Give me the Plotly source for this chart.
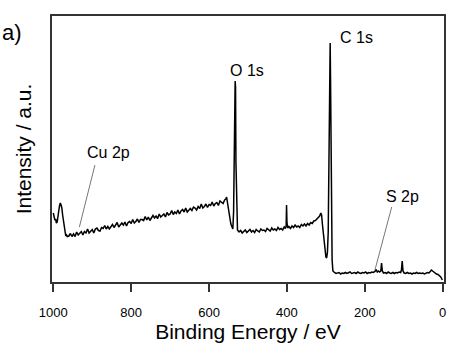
import plotly.graph_objects as go

# Binding energy (eV) and intensity (a.u.)
be_a = [1000, 998, 996, 994, 992, 990, 988, 986, 984, 982, 980, 978, 976, 974, 972, 970, 968, 966, 964]
in_a = [69, 65, 62, 63, 59, 60, 64, 71, 76, 79, 77, 74, 67, 61, 55, 49, 46, 47, 45.5]

be_b = [960, 956, 952, 948, 944, 940, 936, 932, 928, 924, 920, 916, 912, 908, 904, 900, 896, 892, 888, 884,
        880, 876, 872, 868, 864, 860, 856, 852, 848, 844, 840, 836, 832, 828, 824, 820, 816, 812, 808, 804,
        800, 796, 792, 788, 784, 780, 776, 772, 768, 764, 760, 756, 752, 748, 744, 740, 736, 732, 728, 724,
        720, 716, 712, 708, 704, 700, 696, 692, 688, 684, 680, 676, 672, 668, 664, 660, 656, 652, 648, 644,
        640, 636, 632, 628, 624, 620, 616, 612, 608, 604, 600, 596, 592, 588, 584, 580, 576, 572, 568, 564]
in_b = [46, 48.5, 45.5, 48, 45.5, 50, 47, 49, 50.5, 47, 50.5, 49, 53, 49, 51, 52.5, 49, 53, 54, 51.5,
        51, 54.5, 53.5, 56.5, 53, 55.5, 53, 55.5, 57.5, 54.5, 57, 59.5, 55, 57, 59, 57, 60, 56, 59.5, 60.5,
        58.5, 62.5, 59, 60.5, 63, 59.5, 62.5, 62.5, 61.5, 65.5, 62, 65, 61.5, 64, 66.5, 64, 66, 63.5, 68, 65,
        67, 68, 65, 69.5, 67, 68, 71.5, 67.5, 70, 68.5, 72, 68, 71, 72.5, 70, 74, 70, 72, 73.5, 71.5,
        75, 74, 72, 75.5, 73.5, 78, 74, 75.5, 78, 74.5, 77.5, 76.5, 80, 76, 78.5, 79.5, 76.5, 81, 79.5, 78.5]

be_o = [560, 557, 555, 553, 550, 547, 544, 541, 539, 537, 535, 533, 532, 531, 529, 527]
in_o = [82, 83, 85, 80, 72, 64, 58, 55, 53, 70, 130, 201, 195, 120, 60, 52]

be_c = [523, 519, 515, 511, 507, 503, 499, 495, 491, 487, 483, 479, 475, 471, 467, 463, 459, 455, 451, 447,
        443, 439, 435, 431, 427, 423, 419, 415, 411, 407, 404, 402, 401, 400, 398, 395, 391, 387, 383, 379,
        375, 371, 367, 363, 359, 355, 351, 347, 343, 339, 335, 331, 327, 323, 319, 316, 313, 311, 309, 306,
        303, 300, 298, 296, 294, 292, 290, 289, 288, 287, 286, 284, 282, 280]
in_c = [50, 51.5, 49, 50.5, 52, 49.5, 51, 52.5, 50, 51.5, 49.5, 52.5, 51, 50, 53, 51.5, 52, 50.5, 53.5, 52,
        51, 54, 52, 53, 51.5, 54.5, 52.5, 53.5, 52, 55, 53.5, 56, 77, 60, 54, 55.5, 53.5, 56, 54.5, 57,
        55, 56, 54.5, 57.5, 56, 58, 56, 58.5, 57, 59.5, 58.5, 61, 61.5, 63, 64.5, 66, 69, 67, 58, 45,
        33, 25, 24, 30, 50, 120, 210, 239, 200, 120, 60, 22, 11, 9.5]

be_d = [278, 274, 270, 266, 262, 258, 254, 250, 246, 242, 238, 234, 230, 226, 222, 218, 214, 210, 206, 202,
        198, 194, 190, 186, 182, 178, 174, 171, 168, 165, 162, 159, 157, 155, 152, 148, 144, 140, 136, 132,
        128, 124, 120, 116, 112, 108, 106, 104, 102, 99, 95, 91, 87, 83, 79, 75, 71, 67, 63, 59,
        55, 51, 47, 43, 39, 35, 32, 29, 26, 23, 20, 16, 12, 8, 5, 3, 1]
in_d = [9.5, 8.5, 9, 9.5, 8, 9, 8.5, 9.5, 8.5, 9.5, 10, 8.5, 9, 9.5, 8.5, 10, 9, 8.5, 9.5, 9,
        10, 8.5, 9.5, 9, 10, 9.5, 10.5, 12.5, 10, 11, 10, 11, 19, 11, 9, 9.5, 8.5, 10, 9, 8.5,
        9.5, 8.5, 9.5, 9, 10, 9.5, 12, 21, 11, 9, 8.5, 9.5, 8.5, 9, 8, 9, 8.5, 9.5, 8.5, 9,
        8.5, 9, 8, 9, 9.5, 9, 10.5, 12, 11, 10, 9, 8, 7.5, 6.5, 5, 3.5, 2]

x_ticks = [1000, 800, 600, 400, 200, 0]

binding_energy = be_a + be_b + be_o + be_c + be_d
intensity = in_a + in_b + in_o + in_c + in_d

FONT = "Liberation Sans, Arial, sans-serif"

fig = go.Figure()
fig.add_trace(go.Scatter(x=binding_energy, y=intensity, mode="lines",
                         line=dict(color="black", width=1.5), showlegend=False))

fig.update_layout(
    width=456, height=360,
    margin=dict(l=52, r=12, t=16, b=78),
    paper_bgcolor="white", plot_bgcolor="white",
    font=dict(family=FONT, color="black"),
    xaxis=dict(range=[1003.3, -3.3], tickvals=x_ticks, ticks="outside", ticklen=8,
               tickwidth=1.5, tickcolor="#333", showline=True, linecolor="#333", linewidth=1.5,
               mirror=True, showgrid=False, zeroline=False, tickfont=dict(size=13),
               ticklabelstandoff=10, automargin=False,
               title=dict(text="Binding Energy / eV", font=dict(size=21), standoff=0)),
    yaxis=dict(range=[0, 266], showticklabels=False, ticks="", showline=True, linecolor="#333",
               linewidth=1.5, mirror=True, showgrid=False, zeroline=False, automargin=False,
               title=dict(text="Intensity / a.u.", font=dict(size=21), standoff=13)),
)

ann = dict(showarrow=False, font=dict(size=16, family=FONT, color="black"))
fig.add_annotation(x=502.6, y=212, text="O 1s", xref="x", yref="y", **ann)
fig.add_annotation(x=269, y=245, text="C 1s", xref="x", yref="y", xanchor="left", **ann)
fig.add_annotation(x=857, y=130, text="Cu 2p", xref="x", yref="y", **ann)
fig.add_annotation(x=104.5, y=86, text="S 2p", xref="x", yref="y", **ann)
fig.add_annotation(x=-52 / 392, y=(282 - 32) / 266, xref="paper", yref="paper", text="a)",
                   showarrow=False, xanchor="left", yanchor="middle",
                   font=dict(size=22, family=FONT, color="black"))

fig.add_shape(type="line", x0=893, y0=117, x1=933, y1=55, xref="x", yref="y",
              line=dict(color="#777", width=1))
fig.add_shape(type="line", x0=131, y0=75, x1=174, y1=12, xref="x", yref="y",
              line=dict(color="#777", width=1))

fig.write_html("out.html", config={"displayModeBar": False},
               post_script="document.body.style.margin='0';document.body.style.overflow='hidden';")
